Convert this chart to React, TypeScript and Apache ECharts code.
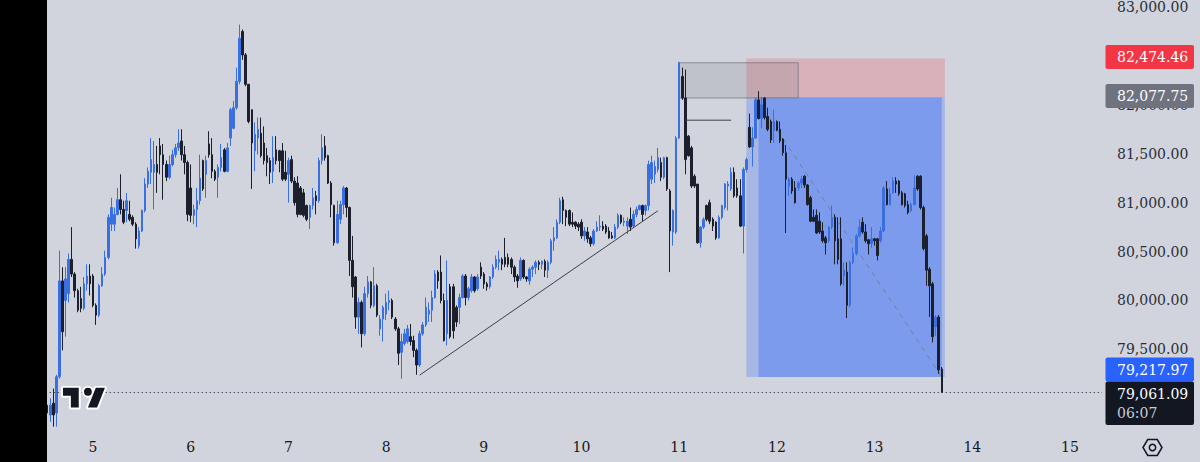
import React, { useEffect, useRef } from "react";
import * as echarts from "echarts";

// Candles as [open, high, low, close], one small list per calendar day.
const day04 = [[78930,79020,78710,78850],[78830,79000,78760,78930],[78950,79100,78710,78830],[78850,79240,78710,79220],[79220,80510,79200,80200],[80200,80340,79490,79680],[80000,80340,79630,80220],[80070,80480,79980,80420],[80420,80750,80240,80270],[80270,80290,80030,80100],[80100,80120,79880,79900],[80020,80140,79880,79920],[79920,80240,79900,80170],[80170,80370,80100,80250],[80250,80370,80050,80170]];
const day05 = [[80250,80270,79930,79950],[79950,79970,79750,79850],[79850,80170,79830,80150],[80150,80340,80140,80270],[80270,80510,80250,80440],[80440,80880,80420,80850],[80780,81050,80710,80950],[80780,80950,80710,80880],[80880,81150,80870,81030],[81030,81290,80880,80930],[80930,81020,80780,80800],[80920,81100,80800,81020],[80880,81020,80810,80830],[80850,80870,80760,80780],[80780,80800,80530,80630],[80560,80750,80530,80710],[80710,80930,80700,80920],[80920,81250,80900,81190],[81190,81360,81150,81320],[81310,81660,81190,81440],[81310,81630,80930,81390],[81390,81580,81100,81310],[81580,81660,81290,81490],[81490,81600,81030,81390],[81390,81430,81220,81260],[81260,81480,81240,81390],[81390,81540,81370,81490],[81490,81600,81460,81560],[81560,81750,81530,81610],[81630,81750,81430,81490],[81490,81580,81290,81410],[81410,81430,80810,80880]];
const day06 = [[81150,81390,80800,80870],[80870,80980,80780,80930],[80930,81150,80750,81020],[81020,81490,80980,81250],[81430,81440,81120,81140],[81290,81480,81050,81430],[81600,81730,81460,81490],[81490,81660,81250,81320],[81320,81340,81220,81240],[81260,81390,81050,81360],[81360,81600,81320,81460],[81540,81560,81310,81320],[81320,81610,81310,81560],[81660,81970,81580,81950],[81760,82040,81750,81970],[81970,82380,81950,82240],[82240,82820,82210,82680],[82750,82770,82460,82510],[82510,82530,82190,82210],[82210,82210,81810,81830],[81950,81950,81140,81610],[81530,81820,81320,81700],[81660,81870,81490,81750],[81710,81870,81460,81480],[81610,81780,81390,81430],[81480,81560,81270,81410],[81430,81460,81190,81310],[81320,81680,81200,81460],[81540,81680,81390,81430],[81530,81540,81310,81430],[81530,81610,81220,81240],[81310,81530,81220,81240]];
const day07 = [[81290,81460,81000,81430],[81440,81480,81200,81220],[81220,81260,80970,81000],[81200,81270,80850,80880],[81150,81170,80870,80880],[81100,81140,80850,80870],[80970,80980,80810,80830],[80850,80980,80730,80970],[80970,81150,80930,81050],[81070,81120,80880,81020],[81020,81460,81000,81430],[81430,81700,81390,81560],[81580,81680,81430,81460],[81480,81490,81190,81200],[81200,81220,80850,80980],[80970,80980,80560,80590],[80590,81020,80580,80880],[80830,81020,80780,80980],[80980,81170,80880,81150],[81150,81160,80850,80950],[80950,80960,80250,80410],[80410,80660,80030,80140],[80240,80250,79710,79830],[79830,80030,79660,79980],[79980,80000,79520,79660],[79660,80140,79640,80070],[80070,80250,80030,80190],[80190,80200,79920,79950],[79950,80340,79930,80150],[80150,80170,79830,79850],[79710,79850,79640,79810],[79810,79950,79580,79930]];
const day08 = [[79860,80070,79800,79980],[79980,80100,79900,80000],[80000,80020,79810,79830],[79810,79830,79690,79710],[79710,79730,79340,79460],[79470,79660,79200,79580],[79560,79710,79540,79660],[79580,79750,79560,79710],[79630,79760,79540,79580],[79590,79640,79420,79490],[79490,79510,79240,79340],[79340,79690,79320,79660],[79660,79780,79640,79750],[79750,80030,79730,79930],[79860,79980,79780,79900],[79900,80100,79780,80030],[80030,80310,80020,80270],[80290,80310,80120,80200],[80290,80460,79970,80000],[80000,80070,79580,79590],[79660,80410,79540,80000],[80140,80170,79610,79630],[80140,80170,79610,79690],[79930,79950,79730,79780],[79930,80070,79760,80030],[80030,80270,80020,80250],[80250,80270,79950,80030],[80030,80140,80000,80120],[80100,80270,80080,80240],[80240,80250,80080,80100],[80120,80270,80100,80240],[80340,80390,80220,80250]];
const day09 = [[80270,80290,80120,80170],[80170,80190,80100,80140],[80140,80250,80120,80240],[80240,80370,80220,80340],[80340,80460,80320,80420],[80390,80510,80310,80420],[80420,80440,80310,80370],[80440,80640,80340,80370],[80440,80480,80340,80370],[80420,80440,80270,80340],[80340,80360,80190,80240],[80250,80270,80130,80200],[80220,80440,80200,80410],[80410,80420,80220,80240],[80240,80250,80190,80220],[80200,80340,80160,80320],[80320,80360,80240,80340],[80340,80410,80270,80390],[80390,80410,80310,80370],[80370,80410,80320,80400],[80400,80420,80240,80310],[80310,80410,80230,80390],[80390,80630,80370,80610],[80610,80750,80510,80640],[80640,80830,80630,80800],[80800,81050,80780,81020],[81030,81060,80780,80920],[80920,80930,80760,80850],[80920,80930,80760,80780],[80800,80900,80750,80780],[80800,80810,80730,80760],[80780,80800,80710,80750]];
const day10 = [[80800,80830,80630,80660],[80660,80750,80610,80710],[80700,80750,80590,80630],[80640,80660,80550,80580],[80580,80730,80560,80710],[80710,80810,80700,80750],[80750,80870,80710,80760],[80760,80810,80710,80730],[80760,80780,80680,80700],[80710,80750,80630,80640],[80660,80700,80630,80640],[80640,80780,80630,80750],[80750,80890,80730,80870],[80870,80880,80780,80800],[80800,80850,80760,80810],[80760,80850,80680,80810],[80830,80950,80710,80750],[80760,80920,80750,80880],[80880,80960,80850,80930],[80930,80980,80920,80970],[80970,80980,80810,80880],[80920,80980,80870,80970],[80970,81430,80920,81390],[81240,81480,81190,81410],[81290,81430,81200,81370],[81340,81560,81310,81460],[81410,81460,81220,81260],[81260,81470,81240,81460],[81460,81470,81120,81140],[81120,81140,80290,80710],[80700,80930,80560,80920],[80700,81680,80680,81660]];
const day11 = [[81660,82440,81650,82430],[82290,82380,82050,82070],[82070,82360,81290,81440],[81680,81690,81470,81480],[81560,81580,81150,81170],[81270,81290,81150,81170],[81190,81190,80580,80590],[80590,80760,80540,80750],[80750,80850,80730,80830],[80970,80980,80810,80830],[81000,81030,80780,80810],[80830,80850,80710,80760],[80800,80810,80620,80640],[80640,80870,80630,80850],[80850,80980,80830,80970],[80950,81200,80930,81190],[81170,81220,80920,81190],[81140,81360,81120,81310],[81310,81360,81050,81070],[81150,81240,81050,81070],[81070,81240,80750,80760],[80760,81360,80480,81340],[81340,81460,81310,81440],[81770,81910,81560,81570],[81570,81770,81370,81660],[81660,82070,81650,82050],[82050,82140,81850,81860],[81860,82080,81760,82000],[82070,82080,81850,81870],[81880,81970,81730,81750],[81830,81850,81610,81640],[81740,81950,81610,81830]];
const day12 = [[81830,81840,81730,81740],[81750,81830,81610,81630],[81650,81660,81480,81510],[81510,81590,80690,81240],[81170,81260,81070,81240],[81240,81260,81090,81120],[81150,81220,80990,81000],[81150,81220,81120,81200],[81200,81270,81150,81240],[81270,81280,81150,81180],[81180,81190,80970,80980],[81050,81070,80800,80810],[80850,80930,80800,80810],[80870,80930,80680,80690],[80810,80900,80680,80700],[80710,80800,80590,80610],[80640,80660,80470,80590],[80610,80760,80590,80750],[80750,80970,80730,80850],[80850,80880,80370,80610],[80630,80850,80370,80420],[80630,80850,80150,80170],[80250,80390,80150,80310],[80290,80390,79820,79950],[79950,80410,79930,80390],[80390,80540,80370,80480],[80480,80680,80460,80660],[80660,80830,80640,80750],[80800,80850,80680,80700],[80700,80780,80590,80610],[80620,80630,80470,80580],[80580,80750,80540,80630]];
const day13 = [[80630,80640,80560,80610],[80630,80640,80410,80460],[80610,80750,80590,80710],[80710,81170,80700,81150],[81140,81220,80970,80980],[80980,81150,80970,81090],[81100,81260,81090,81220],[81220,81260,81100,81190],[81220,81230,81070,81090],[81100,81120,80970,80980],[81090,81100,80950,80970],[80980,81020,80880,80900],[80920,81000,80900,80980],[80980,81280,80970,81150],[81270,81280,81120,81140],[81270,81280,80930,80950],[80950,80970,80510,80530],[80660,80680,80150,80310],[80320,80340,79830,80150],[80170,80190,79570,79630],[79730,79850,79640,79830],[79830,79850,79250,79290],[79300,79320,79060,79061.09]];

const dayTicks = ["5", "6", "7", "8", "9", "10", "11", "12", "13", "14", "15"];
const candlesPerDay = 32;
const firstDayIndex = 15;
const slotCount = 346;

const stopPrice = 82474.46;
const entryPrice = 82077.75;
const targetPrice = 79217.97;
const lastPrice = 79061.09;
const countdown = "06:07";
const zoneTop = 82430;
const zoneBottom = 82070;
const levelPrice = 81843;
const trendStart = [122, 79237];
const trendEnd = [200, 80916];

const TV_LOGO = "M14 6H2v6h6v9h6V6zm14 15h-7l6-15h7l-6 15zm-7-9a3 3 0 1 0 0-6 3 3 0 0 0 0 6z";
echarts.graphic.registerShape("tvlogo", echarts.graphic.extendPath(TV_LOGO as any, {}) as any);

const FONT = "'DejaVu Serif', serif";
const money = (v: number) =>
  v.toLocaleString("en-US", { minimumFractionDigits: 2, maximumFractionDigits: 2 });

export default function App() {
  const ref = useRef<HTMLDivElement>(null);
  useEffect(() => {
    document.body.style.margin = "0";
    document.body.style.background = "#d1d4dc";
    const chart = echarts.init(ref.current!, undefined, { renderer: "svg" });
    const ohlc = [...day04, ...day05, ...day06, ...day07, ...day08, ...day09, ...day10, ...day11, ...day12, ...day13];
    const categories: string[] = Array.from({ length: slotCount }, () => "");
    dayTicks.forEach((d, i) => {
      categories[firstDayIndex + i * candlesPerDay] = d;
    });
    const tag = (y: number, h: number, fill: string, lines: { t: string; y: number; c?: string }[]) => [
      { type: "rect", z: 100, shape: { x: 1105.5, y, width: 88.5, height: h, r: 2 }, style: { fill } },
      ...lines.map((l) => ({
        type: "text",
        z: 101,
        x: 1117,
        y: l.y,
        style: { text: l.t, fill: l.c || "#ffffff", font: `14px ${FONT}`, textVerticalAlign: "middle" },
      })),
    ];
    chart.setOption({
      animation: false,
      backgroundColor: "#d1d4dc",
      grid: { left: 45.7, top: 4.5, width: slotCount * 3.053, height: 442.7 },
      xAxis: {
        type: "category",
        data: categories,
        axisLine: { show: false },
        axisTick: { show: false },
        splitLine: { show: false },
        axisLabel: {
          interval: (_: number, v: string) => v !== "",
          margin: 0,
          verticalAlign: "middle",
          color: "#131722",
          fontFamily: "'DejaVu Serif', serif",
          fontSize: 14,
        },
      },
      yAxis: {
        type: "value",
        position: "right",
        min: 78500,
        max: 83000,
        interval: 500,
        axisLine: { show: false },
        axisTick: { show: false },
        splitLine: { show: false },
        axisLabel: {
          margin: 15,
          color: "#2a2e39",
          fontFamily: "'DejaVu Serif', serif",
          fontSize: 14,
          formatter: (v: number) => (v < 79500 || v === 82500 ? "" : money(v)),
        },
      },
      series: [
        {
          type: "candlestick",
          z: 3,
          barWidth: 2,
          data: ohlc.map((c) => [c[0], c[3], c[2], c[1]]),
          itemStyle: {
            color: "#3a6fe2",
            borderColor: "#3a6fe2",
            color0: "#1c202c",
            borderColor0: "#1c202c",
            borderWidth: 1,
          },
          markLine: {
            silent: true,
            symbol: "none",
            label: { show: false },
            lineStyle: { color: "#131722", type: [1, 3], width: 1 },
            data: [{ yAxis: lastPrice }],
          },
        },
        {
          type: "line",
          z: 4,
          symbol: "none",
          data: [trendStart, trendEnd],
          lineStyle: { color: "#3c3f48", width: 1 },
          markArea: {
            silent: true,
            z: 1,
            label: { show: false },
            data: [
              [
                { xAxis: 229, yAxis: stopPrice, itemStyle: { color: "rgba(242,54,69,0.22)" } },
                { xAxis: 294, yAxis: entryPrice },
              ],
              [
                { xAxis: 229, yAxis: entryPrice, itemStyle: { color: "rgba(41,98,255,0.26)" } },
                { xAxis: 294, yAxis: targetPrice },
              ],
              [
                { xAxis: 233, yAxis: entryPrice, itemStyle: { color: "rgba(41,98,255,0.32)" } },
                { xAxis: 293, yAxis: targetPrice },
              ],
              [
                {
                  xAxis: 207,
                  yAxis: zoneTop,
                  itemStyle: { color: "rgba(120,123,134,0.2)", borderColor: "rgba(120,123,134,0.8)", borderWidth: 1 },
                },
                { xAxis: 246, yAxis: zoneBottom },
              ],
            ],
          },
        },
        {
          type: "line",
          z: 4,
          symbol: "none",
          data: [[209, levelPrice], [224, levelPrice]],
          lineStyle: { color: "#3c3f48", width: 1 },
        },
        {
          type: "line",
          z: 2,
          symbol: "none",
          data: [[232, entryPrice], [293, targetPrice]],
          lineStyle: { color: "rgba(120,123,134,0.85)", width: 1, type: [5, 5] },
        },
      ],
      graphic: [
        { type: "rect", z: 100, shape: { x: 0, y: 0, width: 47, height: 462 }, style: { fill: "#000000" } },
        ...tag(45, 24, "#f23645", [{ t: money(stopPrice), y: 57 }]),
        ...tag(84, 24, "#6f737f", [{ t: money(entryPrice), y: 96 }]),
        ...tag(357.5, 24, "#2962ff", [{ t: money(targetPrice), y: 369.5 }]),
        ...tag(381.5, 43.5, "#131722", [
          { t: money(lastPrice), y: 393.5 },
          { t: countdown, y: 413, c: "#c9ccd4" },
        ]),
        {
          type: "tvlogo",
          z: 90,
          x: 60.4,
          y: 380,
          scaleX: 1.31,
          scaleY: 1.31,
          style: { fill: "#ffffff", stroke: "#ffffff", lineWidth: 3, lineJoin: "round" },
        },
        { type: "tvlogo", z: 91, x: 60.4, y: 380, scaleX: 1.31, scaleY: 1.31, style: { fill: "#131722" } },
        {
          type: "polygon",
          z: 100,
          shape: { points: [[1143, 447.5], [1147.7, 439.5], [1157.3, 439.5], [1162, 447.5], [1157.3, 455.5], [1147.7, 455.5]] },
          style: { fill: "none", stroke: "#131722", lineWidth: 1.5 },
        },
        {
          type: "circle",
          z: 100,
          shape: { cx: 1152.5, cy: 447.5, r: 3.2 },
          style: { fill: "none", stroke: "#131722", lineWidth: 1.5 },
        },
      ],
    });
    return () => chart.dispose();
  }, []);
  return <div ref={ref} style={{ width: 1200, height: 462 }} />;
}
